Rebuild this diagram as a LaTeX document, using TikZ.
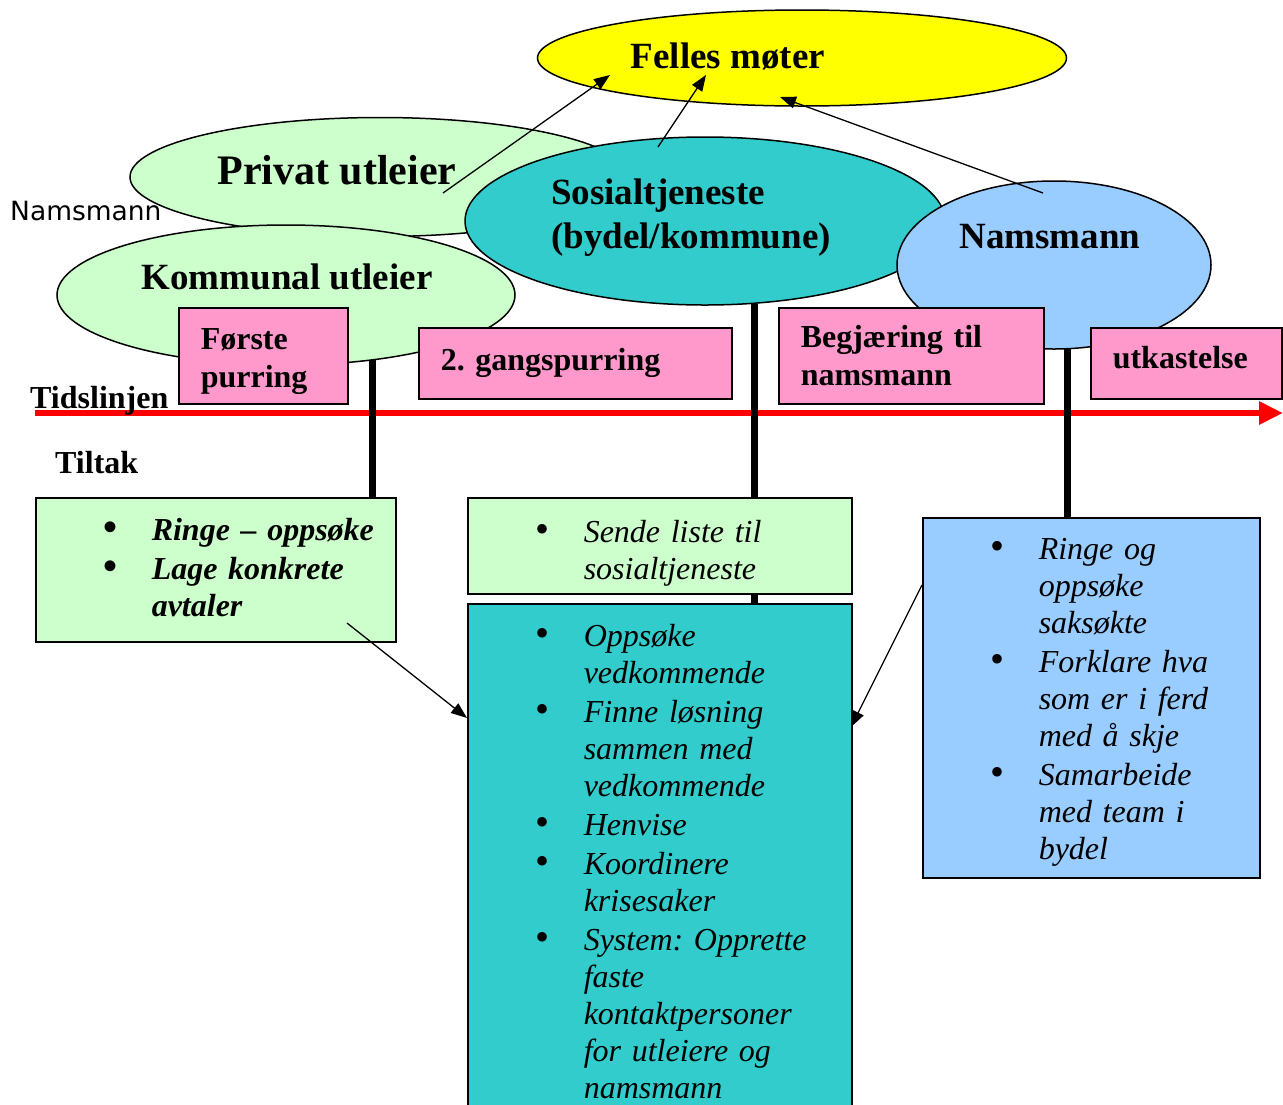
\documentclass[tikz,border=0pt]{standalone}
\usepackage{fontspec}
\setmainfont{Liberation Serif}
\newfontfamily\smalsans{DejaVu Sans}
\usetikzlibrary{shapes.geometric,arrows.meta}
\frenchspacing

\definecolor{gul}{HTML}{FFFF00}
\definecolor{lysgronn}{HTML}{CCFFCC}
\definecolor{turkis}{HTML}{33CCCC}
\definecolor{lysbla}{HTML}{99CCFF}
\definecolor{rosa}{HTML}{FF99CC}
\definecolor{tidsrod}{HTML}{FF0000}

\newenvironment{punkter}{\begin{list}{\fontsize{40}{37}\selectfont\upshape\textbullet}{%
  \setlength{\leftmargin}{116pt}\setlength{\labelwidth}{60pt}%
  \setlength{\labelsep}{34pt}\setlength{\itemsep}{2pt}%
  \setlength{\parsep}{0pt}\setlength{\topsep}{0pt}\setlength{\partopsep}{0pt}}}%
  {\end{list}}

\begin{document}
\begin{tikzpicture}[x=1pt,y=-1pt]
       \tikzstyle{aktor}=[ellipse, draw, line width=1.5pt, inner sep=0pt]
       \tikzstyle{tittel}=[font=\fontsize{37}{44}\selectfont\bfseries, align=left, inner sep=0pt]
       \tikzstyle{purring}=[draw, fill=rosa, line width=1.5pt, anchor=north west, inner xsep=22pt, inner ysep=0pt, align=left, font=\fontsize{32}{38}\selectfont\bfseries]
       \tikzstyle{tiltak}=[draw, line width=1.5pt, anchor=north west, inner xsep=0pt, inner ysep=0pt, align=left, font=\fontsize{32}{37}\selectfont\itshape]
       \tikzstyle{stang}=[line width=7pt]
       \tikzstyle{pil}=[-{Triangle[length=16pt,width=12pt]}, line width=1.3pt]
       \useasboundingbox (0,0) rectangle (1283,1104);

       % aktorene
       \node[aktor, fill=gul, minimum width=529, minimum height=96] (felles) at (802,58) {};
       \node[aktor, fill=lysgronn, minimum width=500, minimum height=119] (privat) at (380,177) {};
       \node[aktor, fill=lysgronn, minimum width=458, minimum height=140] (kommunal) at (286,295) {};
       \node[aktor, fill=turkis, minimum width=480, minimum height=168] (sosial) at (705,221) {};
       \node[aktor, fill=lysbla, minimum width=314, minimum height=168] (nams) at (1054,265) {};

       \node[tittel] (felles-tekst) at (728,56) {Felles møter};
       \node[tittel, font=\fontsize{42}{48}\selectfont\bfseries] (privat-tekst) at (337,170) {Privat utleier};
       \node[tittel] (kommunal-tekst) at (287,277) {Kommunal utleier};
       \node[tittel, anchor=west] (sosial-tekst) at (551,218) {Sosialtjeneste\\(bydel/kommune)};
       \node[tittel] (nams-tekst) at (1050,237) {Namsmann};
       \node[inner sep=0pt, anchor=west, font=\fontsize{26.5}{30}\selectfont\smalsans] (nams-liten) at (10,211) {Namsmann};

       % tidslinjen
       \coordinate (tid-start) at (35,413);
       \coordinate (tid-slutt) at (1283,413);
       \draw[tidsrod, line width=6pt, -{Triangle[length=24pt,width=22pt]}] (tid-start) -- (tid-slutt);
       \node[inner sep=0pt, anchor=base west, font=\fontsize{32}{38}\selectfont\bfseries] (tidslinjen) at (30,408) {Tidslinjen};
       \node[inner sep=0pt, anchor=base west, font=\fontsize{32}{38}\selectfont\bfseries] (tiltak) at (55,473) {Tiltak};

       % purringer
       \node[purring, text width=125, minimum height=96] (purring1) at (178,307) {\rule{0pt}{32pt}Første\\purring};
       \node[purring, text width=269, minimum height=71] (purring2) at (418,327) {2. gangspurring};
       \node[purring, text width=221, minimum height=96] (begjaering) at (778,307) {Begjæring til\\namsmann};
       \node[purring, text width=147, minimum height=71, text depth=12pt] (utkastelse) at (1090,327) {utkastelse};

       % tiltakene
       \draw[stang] (kommunal.-37) -- (kommunal.-37 |- 0,497);
       \draw[stang] (sosial.-59) -- (sosial.-59 |- 0,603);
       \draw[stang] (nams.-81) -- (nams.-81 |- 0,517);

       \node[tiltak, fill=lysgronn, text width=360, minimum height=144, font=\fontsize{32}{37}\selectfont\bfseries\itshape] (boks1) at (35,497) {%
        \vspace*{-20pt}
        \begin{punkter}
         \item Ringe – oppsøke
         \item Lage konkrete\newline avtaler
        \end{punkter}};
       \node[tiltak, fill=lysgronn, text width=384, minimum height=96] (boks2) at (467,497) {%
        \begin{punkter}
         \item Sende liste til\newline sosialtjeneste
        \end{punkter}};
       \node[tiltak, fill=turkis, text width=384, inner ysep=6pt] (sosialboks) at (467,603) {%
        \begin{punkter}
         \item Oppsøke\newline vedkommende
         \item Finne løsning\newline sammen med\newline vedkommende
         \item Henvise
         \item Koordinere\newline krisesaker
         \item System: Opprette\newline faste\newline kontaktpersoner\newline for utleiere og\newline namsmann
        \end{punkter}\par\rule{0pt}{40pt}};
       \node[tiltak, fill=lysbla, text width=337, minimum height=360] (namsboks) at (922,517) {%
        \vspace*{-6pt}
        \begin{punkter}
         \item Ringe og\newline oppsøke\newline saksøkte
         \item Forklare hva\newline som er i ferd\newline med å skje
         \item Samarbeide\newline med team i\newline bydel
        \end{punkter}};

       % piler
       \coordinate (privat-ut) at (443,193);
       \coordinate (felles-inn1) at (610,75);
       \coordinate (sosial-ut) at (658,147);
       \coordinate (felles-inn2) at (706,75);
       \coordinate (nams-ut) at (1043,193);
       \coordinate (felles-inn3) at (780,97);
       \coordinate (boks1-ut) at (347,623);
       \coordinate (sosialboks-inn1) at (467,718);
       \coordinate (namsboks-ut) at (922,585);
       \coordinate (sosialboks-inn2) at (851,727);
       \draw[pil] (privat-ut) -- (felles-inn1);
       \draw[pil] (sosial-ut) -- (felles-inn2);
       \draw[pil] (nams-ut) -- (felles-inn3);
       \draw[pil] (boks1-ut) -- (sosialboks-inn1);
       \draw[pil] (namsboks-ut) -- (sosialboks-inn2);
\end{tikzpicture}
\end{document}
